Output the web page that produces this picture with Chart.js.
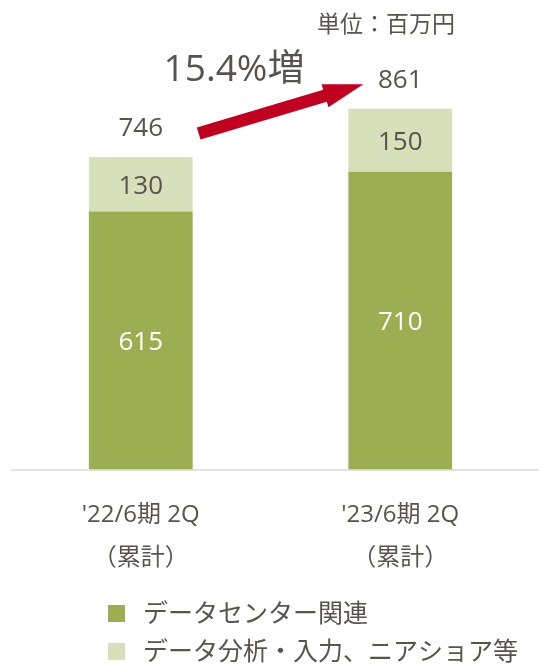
<!DOCTYPE html>
<html>
<head>
<meta charset="utf-8">
<script src="https://cdn.jsdelivr.net/npm/chart.js@4.4.0/dist/chart.umd.min.js"></script>
<style>
  html, body { margin: 0; padding: 0; background: #ffffff; }
  canvas { display: block; }
</style>
</head>
<body>
<canvas id="salesChart" width="539" height="664"></canvas>
<script>
// Chart data
const categories = [["'22/6期 2Q", "（累計）"], ["'23/6期 2Q", "（累計）"]];
const dataCenter = [615, 710];
const dataAnalysis = [130, 150];
const totals = [746, 861];
const seriesNames = ["データセンター関連", "データ分析・入力、ニアショア等"];
const growthLabel = "15.4%増";
const unitLabel = "単位：百万円";

const FONT = "'Open Sans', 'Noto Sans CJK JP', sans-serif";
const TEXT = "#59534e";
const DARK_GREEN = "#9dad52";
const LIGHT_GREEN = "#d8dfbb";
const ARROW_RED = "#c00021";

/**
 * Labels, arrow, axis line and legend
 */
const decorations = {
  id: "decorations",
  beforeDatasetsDraw(chart) {
    const { ctx, chartArea } = chart;
    // baseline
    ctx.save();
    ctx.strokeStyle = "#d9d9d9";
    ctx.lineWidth = 1.5;
    ctx.beginPath();
    ctx.moveTo(chartArea.left, chartArea.bottom + 0.5);
    ctx.lineTo(chart.width, chartArea.bottom + 0.5);
    ctx.stroke();
    ctx.restore();
  },
  afterDatasetsDraw(chart) {
    const { ctx } = chart;
    const xs = chart.scales.x;
    const ys = chart.scales.y;

    ctx.save();
    ctx.textAlign = "center";
    ctx.textBaseline = "middle";

    // segment labels
    chart.data.datasets.forEach((ds, di) => {
      const meta = chart.getDatasetMeta(di);
      meta.data.forEach((bar, i) => {
        const mid = (bar.y + bar.base) / 2;
        ctx.font = "26px " + FONT;
        ctx.fillStyle = di === 0 ? "#ffffff" : TEXT;
        ctx.fillText(String(ds.data[i]), bar.x, mid + 2);
      });
    });

    // totals above bars
    totals.forEach((t, i) => {
      ctx.font = "26px " + FONT;
      ctx.fillStyle = TEXT;
      ctx.fillText(String(t), xs.getPixelForValue(i), ys.getPixelForValue(t) - 28);
    });

    // unit
    ctx.textAlign = "right";
    ctx.font = "23px " + FONT;
    ctx.fillText(unitLabel, 455, 25);

    // growth text
    ctx.textAlign = "center";
    ctx.font = "37px " + FONT;
    ctx.fillText(growthLabel, 234, 70);

    // arrow from first total to second total
    const bar0 = chart.getDatasetMeta(1).data[0];
    const bar1 = chart.getDatasetMeta(1).data[1];
    const x0 = bar0.x + bar0.width / 2 + 6;
    const y0 = ys.getPixelForValue(totals[0]) - 23;
    const x1 = bar1.x - bar1.width / 2 + 15;
    const y1 = ys.getPixelForValue(totals[1]) - 24;
    const len = Math.hypot(x1 - x0, y1 - y0);
    const ux = (x1 - x0) / len, uy = (y1 - y0) / len;
    const nx = -uy, ny = ux;
    const shaft = 6.3, head = 12, headLen = 40;
    const bx = x1 - ux * headLen, by = y1 - uy * headLen;
    ctx.fillStyle = ARROW_RED;
    ctx.beginPath();
    ctx.moveTo(x0 + nx * shaft, y0 + ny * shaft);
    ctx.lineTo(bx + nx * shaft, by + ny * shaft);
    ctx.lineTo(bx + nx * head, by + ny * head);
    ctx.lineTo(x1, y1);
    ctx.lineTo(bx - nx * head, by - ny * head);
    ctx.lineTo(bx - nx * shaft, by - ny * shaft);
    ctx.lineTo(x0 - nx * shaft, y0 - ny * shaft);
    ctx.closePath();
    ctx.fill();

    // legend
    ctx.textAlign = "left";
    ctx.font = "25px " + FONT;
    const colors = [DARK_GREEN, LIGHT_GREEN];
    seriesNames.forEach((name, i) => {
      const cy = 614 + i * 38;
      ctx.fillStyle = colors[i];
      ctx.fillRect(108, cy - 9, 17, 17);
      ctx.fillStyle = TEXT;
      ctx.fillText(name, 143, cy + 1);
    });

    ctx.restore();
  },
};

const chart = new Chart(document.getElementById("salesChart"), {
  type: "bar",
  data: {
    labels: categories,
    datasets: [
      {
        label: seriesNames[0],
        data: dataCenter,
        backgroundColor: DARK_GREEN,
        barPercentage: 0.8,
        categoryPercentage: 0.5,
      },
      {
        label: seriesNames[1],
        data: dataAnalysis,
        backgroundColor: LIGHT_GREEN,
        barPercentage: 0.8,
        categoryPercentage: 0.5,
      },
    ],
  },
  options: {
    responsive: false,
    animation: false,
    layout: { padding: { top: 50, left: 11, right: 9, bottom: 60 } },
    plugins: {
      legend: { display: false },
      tooltip: { enabled: false },
    },
    scales: {
      x: {
        stacked: true,
        grid: { display: false, drawTicks: false },
        border: { display: false },
        ticks: {
          color: TEXT,
          padding: 24,
          font: { size: 24, family: FONT, lineHeight: 1.8 },
        },
      },
      y: {
        stacked: true,
        display: false,
        min: 0,
        max: 1000,
      },
    },
  },
  plugins: [decorations],
});
</script>
</body>
</html>
